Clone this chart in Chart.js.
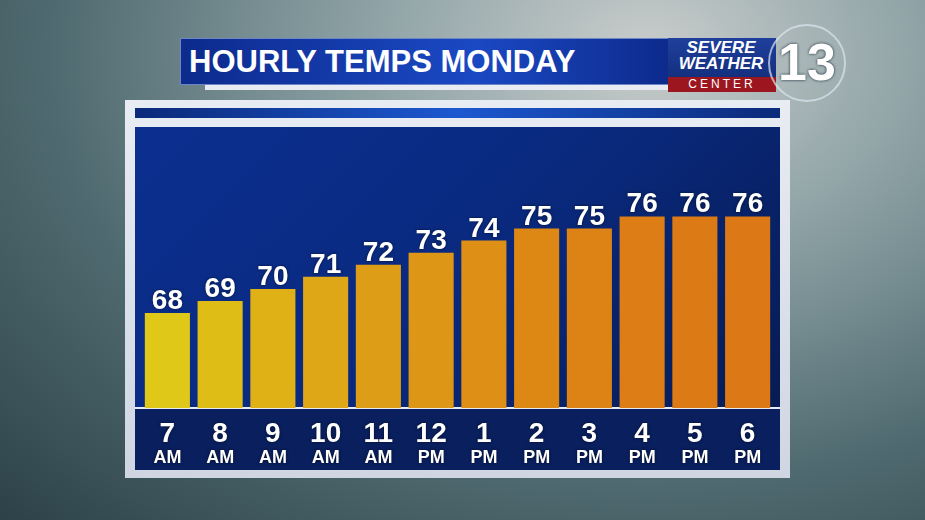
<!DOCTYPE html>
<html>
<head>
<meta charset="utf-8">
<script src="https://cdn.jsdelivr.net/npm/chart.js@4.4.0/dist/chart.umd.min.js"></script>
<style>
  body { margin:0; width:925px; height:520px; overflow:hidden; font-family:"Liberation Sans", Arial, sans-serif;
    background: radial-gradient(ellipse at 70% 10%, #c9cdcc 0%, #8fa3a6 30%, #4f6a70 65%, #2c4248 100%); position:relative; }
  .title { position:absolute; left:180px; top:38px; width:490px; height:47px;
    background: linear-gradient(90deg, #0d2a8c, #1a49c4 60%, #0d2a8c); border:1px solid #6c86c8; box-sizing:border-box;
    color:#fff; font-weight:bold; font-size:31px; line-height:45px; padding-left:8px; }
  .title-under { position:absolute; left:205px; top:85px; width:465px; height:5px; background:#e8ecf2; }
  .logo { position:absolute; left:668px; top:38px; width:108px; height:54px; background:linear-gradient(#1f3f9c,#0f2a74); }
  .logo .sev { position:absolute; left:4px; top:2px; color:#fff; font-style:italic; font-weight:bold; font-size:17px; line-height:16px; text-align:center; width:98px; }
  .logo .ctr { position:absolute; left:0; bottom:0; width:108px; height:15px; background:#9c1620; color:#fff; font-size:12px; letter-spacing:3px; text-align:center; line-height:15px; }
  .logo13 { position:absolute; left:768px; top:24px; width:74px; height:74px; border-radius:50%; border:2px solid rgba(220,230,240,0.7);
    color:#fff; font-weight:bold; font-size:52px; line-height:72px; text-align:center; text-shadow:0 0 3px #123; }
  .frame { position:absolute; left:125px; top:100px; width:665px; height:378px; background:linear-gradient(#e8ecf3,#cfd6e2); }
  .stripe { position:absolute; left:135px; top:108px; width:645px; height:10px; background:linear-gradient(90deg,#0b2a7a,#1c58d0 50%,#0b2a7a); }
  .panel { position:absolute; left:135px; top:127px; width:645px; height:343px;
    background: linear-gradient(135deg, #0b2f90 0%, #0a2a80 45%, #061a4e 100%); }
  .band { position:absolute; left:135px; top:409px; width:645px; height:61px; background:#091f5e; }
  .baseline { position:absolute; left:135px; top:407px; width:645px; height:2px; background:#e6ebf5; }
  canvas { position:absolute; left:135px; top:127px; }
</style>
</head>
<body>
<div class="title">HOURLY TEMPS MONDAY</div>
<div class="title-under"></div>
<div class="logo"><div class="sev">SEVERE<br>WEATHER</div><div class="ctr">CENTER</div></div>
<div class="logo13">13</div>
<div class="frame"></div>
<div class="stripe"></div>
<div class="panel"></div>
<div class="band"></div>
<div class="baseline"></div>
<canvas id="c" width="645" height="343"></canvas>
<script>
const hours = ['7', '8', '9', '10', '11', '12', '1', '2', '3', '4', '5', '6'];
const periods = ['AM', 'AM', 'AM', 'AM', 'AM', 'PM', 'PM', 'PM', 'PM', 'PM', 'PM', 'PM'];
const temps = [68, 69, 70, 71, 72, 73, 74, 75, 75, 76, 76, 76];
const barColors = ['#dfc817', '#dfbd17', '#dfb117', '#dea717', '#de9d17', '#de9616', '#dd8f16', '#dd8715', '#dd8315', '#dc7d15', '#dc7a15', '#dc7815'];

const labelsPlugin = {
  id: 'labels',
  afterDatasetsDraw(chart) {
    const ctx = chart.ctx;
    const meta = chart.getDatasetMeta(0);
    ctx.save();
    ctx.fillStyle = '#fff';
    ctx.textAlign = 'center';
    ctx.shadowColor = 'rgba(0,0,0,0.6)';
    ctx.shadowBlur = 3;
    meta.data.forEach((bar, i) => {
      ctx.font = 'bold 28px "Liberation Sans", Arial';
      ctx.textBaseline = 'alphabetic';
      ctx.fillText(temps[i], bar.x, bar.y - 4);
      ctx.font = 'bold 28px "Liberation Sans", Arial';
      ctx.fillText(hours[i], bar.x, 315);
      ctx.font = 'bold 18px "Liberation Sans", Arial';
      ctx.fillText(periods[i], bar.x, 336);
    });
    ctx.restore();
  }
};

new Chart(document.getElementById('c'), {
  type: 'bar',
  data: {
    labels: hours,
    datasets: [{ data: temps, backgroundColor: barColors, borderWidth: 0, categoryPercentage: 1, barPercentage: 0.855 }]
  },
  options: {
    responsive: false,
    animation: false,
    layout: { padding: { left: 6, right: 6, top: 3, bottom: 62 } },
    scales: {
      x: { display: false },
      y: { display: false, min: 60.15, max: 83.15 }
    },
    plugins: { legend: { display: false }, tooltip: { enabled: false } }
  },
  plugins: [labelsPlugin]
});
</script>
</body>
</html>
